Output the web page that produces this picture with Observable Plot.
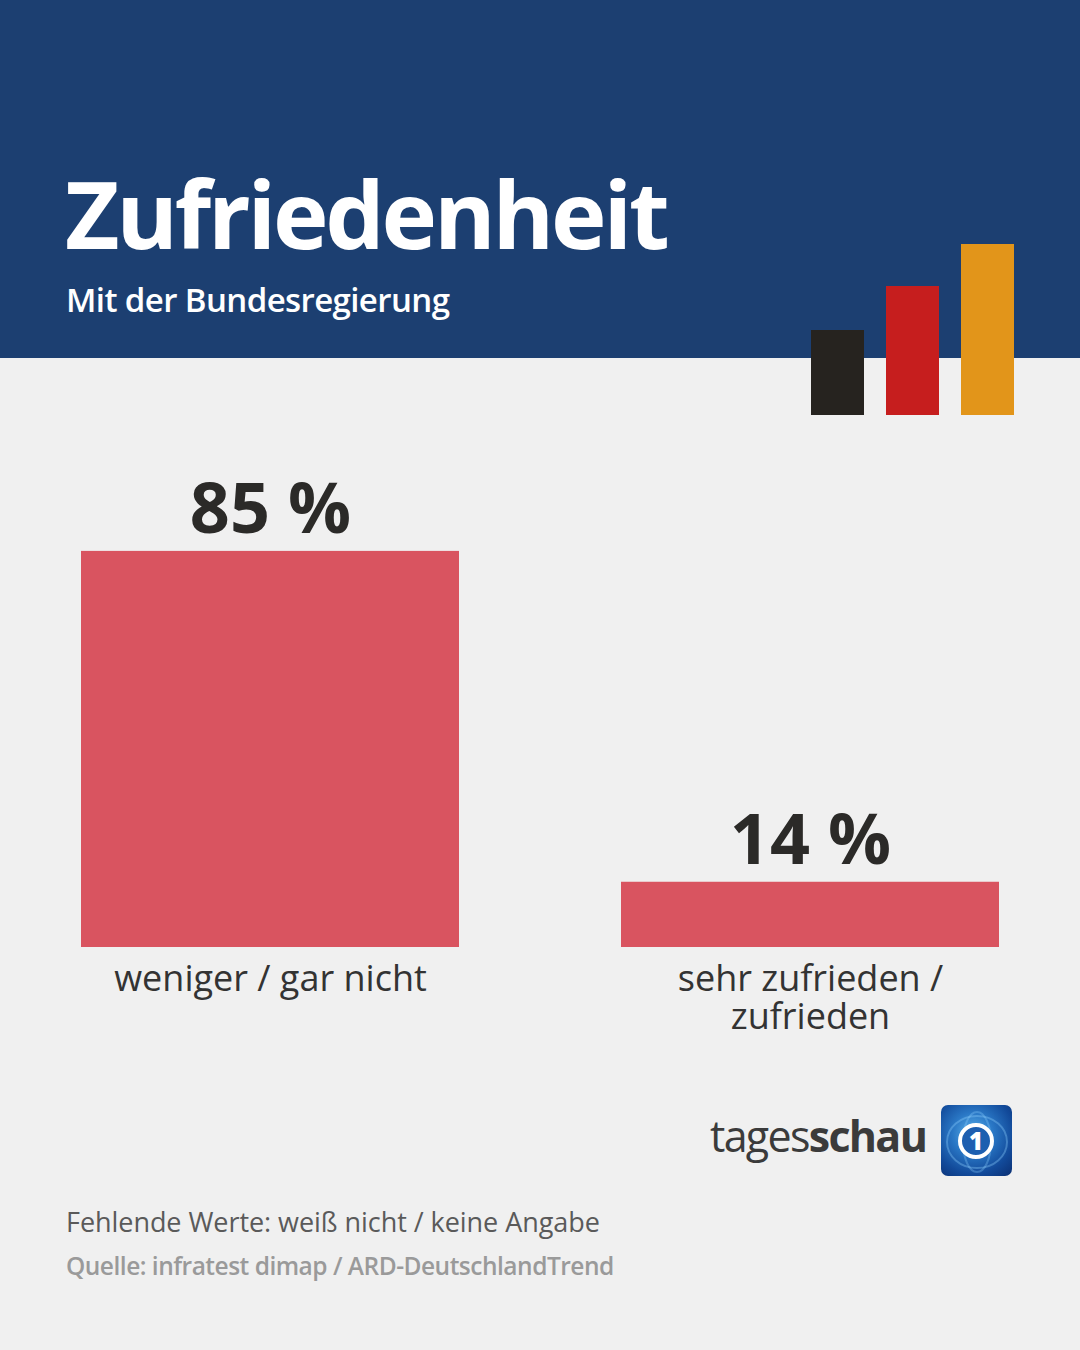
<!DOCTYPE html>
<html>
<head>
<meta charset="utf-8">
<script src="https://cdn.jsdelivr.net/npm/d3@7"></script>
<script src="https://cdn.jsdelivr.net/npm/@observablehq/plot@0.6"></script>
<style>
  html, body { margin: 0; padding: 0; }
  body { width: 1080px; height: 1350px; background: #f0f0f0; position: relative; overflow: hidden; font-family: "Open Sans", "Noto Sans", sans-serif; }
  #header { position: absolute; left: 0; top: 0; width: 1080px; height: 358px; background: #1c3f71; }
  #title { position: absolute; left: 65px; top: 166px; margin: 0; color: #fff; font-size: 94px; font-weight: 700; letter-spacing: -3.2px; line-height: 1; }
  #subtitle { position: absolute; left: 66px; top: 283px; margin: 0; color: #fff; font-size: 33px; font-weight: 600; letter-spacing: -0.6px; line-height: 1; }
  #deco { position: absolute; left: 810px; top: 230px; }
  #chart { position: absolute; left: 0; top: 440px; }
  #brand { position: absolute; left: 710px; top: 1114px; font-size: 43px; color: #3b3b3b; letter-spacing: -1.7px; line-height: 1; }
  #brand b { font-weight: 700; }
  #icon { position: absolute; left: 941px; top: 1105px; width: 71px; height: 71px; border-radius: 7px; overflow: hidden; background: radial-gradient(circle at 45% 40%, #5fb4ec 0%, #2a78c6 35%, #124a9a 70%, #0b2f72 100%); }
  #note { position: absolute; left: 66px; top: 1208px; font-size: 27px; color: #5a5a5a; letter-spacing: -0.05px; line-height: 1; }
  #source { position: absolute; left: 66px; top: 1254px; font-size: 24.5px; font-weight: 600; color: #9a9a9a; letter-spacing: -0.5px; line-height: 1; }
</style>
</head>
<body>
<div id="header"></div>
<h1 id="title">Zufriedenheit</h1>
<p id="subtitle">Mit der Bundesregierung</p>
<div id="deco"></div>
<div id="chart"></div>
<div id="brand">tages<b>schau</b></div>
<div id="icon">
  <svg width="71" height="71" viewBox="0 0 71 71">
    <ellipse cx="36" cy="37" rx="30" ry="26" fill="none" stroke="#8fd0ff" stroke-opacity="0.35" stroke-width="2"/>
    <ellipse cx="36" cy="37" rx="14" ry="30" fill="none" stroke="#8fd0ff" stroke-opacity="0.3" stroke-width="2"/>
    <circle cx="35" cy="36" r="16" fill="#1d5fb0" stroke="#fff" stroke-width="4"/>
    <text x="35" y="45" text-anchor="middle" font-family="Open Sans" font-weight="800" font-size="24" fill="#fff">1</text>
  </svg>
</div>
<div id="note">Fehlende Werte: weiß nicht / keine Angabe</div>
<div id="source">Quelle: infratest dimap / ARD-DeutschlandTrend</div>
<script>
// Data
const categories = ["weniger / gar nicht", "sehr zufrieden /\nzufrieden"];
const values = [85, 14];
const valueLabels = ["85 %", "14 %"];

// Decorative logo bars (relative heights)
const decoKeys = ["schwarz", "rot", "gold"];
const decoHeights = [85, 129, 171];
const decoColors = ["#26231f", "#c61e1e", "#e2951a"];

const rows = categories.map((c, i) => ({ category: c, value: values[i], label: valueLabels[i] }));

const chart = Plot.plot({
  width: 1080,
  height: 640,
  marginTop: 41,
  marginBottom: 133,
  marginLeft: 81,
  marginRight: 81,
  style: { background: "transparent", fontFamily: "'Open Sans', 'Noto Sans', sans-serif", overflow: "visible" },
  x: { domain: categories, paddingInner: 0.3, paddingOuter: 0, axis: null },
  y: { domain: [0, 100], axis: null },
  marks: [
    Plot.barY(rows, { x: "category", y: "value", fill: "#d95460" }),
    Plot.text(rows, { x: "category", y: "value", text: "label", dy: -18, lineAnchor: "bottom", fontSize: 70, fontWeight: 700, fill: "#2b2a28" }),
    Plot.text(rows, { x: "category", y: 0, text: "category", dy: 17, lineAnchor: "top", lineHeight: 1.05, fontSize: 36, fill: "#333333" })
  ]
});
document.getElementById("chart").appendChild(chart);

const decoRows = decoKeys.map((k, i) => ({ key: k, h: decoHeights[i], color: decoColors[i] }));
const deco = Plot.plot({
  width: 204,
  height: 186,
  marginTop: 0,
  marginBottom: 1,
  marginLeft: 0,
  marginRight: 0,
  style: { background: "transparent" },
  x: { domain: decoKeys, paddingInner: 0.3, paddingOuter: 0, axis: null },
  y: { domain: [0, 185], axis: null },
  marks: [
    Plot.barY(decoRows, { x: "key", y: "h", fill: "color" })
  ]
});
document.getElementById("deco").appendChild(deco);
</script>
</body>
</html>
